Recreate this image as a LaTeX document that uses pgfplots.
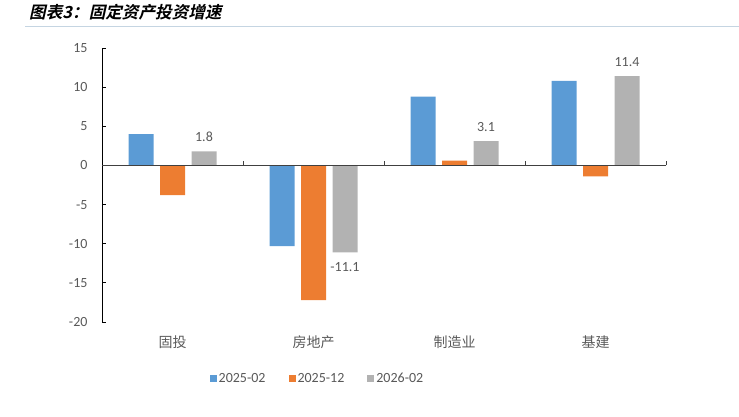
\documentclass[border=0pt]{standalone}
\usepackage{fontspec}
\setmainfont{Carlito}
\newfontfamily\cjk{Noto Sans CJK SC}
\newfontfamily\cjktitle[FakeSlant=0.22]{Noto Sans CJK SC Bold}
\usepackage{pgfplots}
\pgfplotsset{compat=1.18}
\definecolor{cblue}{HTML}{5B9BD5}
\definecolor{corange}{HTML}{ED7D31}
\definecolor{cgray}{HTML}{B2B2B2}
\definecolor{txt}{HTML}{595959}
\definecolor{rule}{HTML}{C5D5E2}
\begin{document}
\begin{tikzpicture}
\useasboundingbox (0pt,0pt) rectangle (739pt,-417pt);
\draw[rule, line width=1pt] (25pt,-27pt) -- (739pt,-27pt);
\node[anchor=west, inner sep=0pt] at (29pt,-12pt) {\cjktitle\fontsize{16.6}{18}\selectfont 图表3：固定资产投资增速};
\begin{axis}[
  at={(102pt,-322pt)}, anchor=south west,
  scale only axis, width=564pt, height=274pt,
  ymin=-20, ymax=15, ytick={-20,-15,...,15},
  xmin=-0.5, xmax=3.5,
  axis y line*=left, axis x line*=bottom,
  x axis line style={draw=none},
  y axis line style={black, line width=1pt},
  xtick={0,1,2,3},
  xticklabels={固投,房地产,制造业,基建},
  xticklabel style={font=\cjk\fontsize{14}{16}\selectfont, yshift=-6.5pt},
  major x tick style={draw=none},
  ytick style={black, line width=0.8pt},
  tick align=inside, major tick length=4pt,
  ticklabel style={color=txt},
  yticklabel style={font=\fontsize{14}{16}\selectfont, xshift=-11pt},
  /pgf/number format/assume math mode=true,
  ybar=6.5pt, bar width=25pt,
  legend columns=3,
  legend style={draw=none, at={(0.382,-0.208)}, anchor=center,
    font=\fontsize{14}{16}\selectfont, text=txt,
    /tikz/every even column/.append style={column sep=21pt}},
  legend image code/.code={\fill[#1] (0pt,-3.5pt) rectangle (7pt,3.5pt);},
  clip=false,
]
\addplot[fill=cblue, draw=none] coordinates {(0,4.0) (1,-10.3) (2,8.8) (3,10.8)};
\addplot[fill=corange, draw=none] coordinates {(0,-3.8) (1,-17.2) (2,0.6) (3,-1.4)};
\addplot[fill=cgray, draw=none,
  nodes near coords,
  nodes near coords style={font=\fontsize{14}{16}\selectfont, text=txt, inner sep=9.5pt,
    /pgf/number format/fixed, /pgf/number format/precision=1, /pgf/number format/fixed zerofill}
  ] coordinates {(0,1.8) (1,-11.1) (2,3.1) (3,11.4)};
\legend{2025-02,2025-12,2026-02}
\draw[black!75, line width=1pt] (axis cs:-0.5,0) -- (axis cs:3.5,0);
\draw[black!75, line width=0.8pt] (axis cs:0.5,0) -- ++(0pt,4pt);
\draw[black!75, line width=0.8pt] (axis cs:1.5,0) -- ++(0pt,4pt);
\draw[black!75, line width=0.8pt] (axis cs:2.5,0) -- ++(0pt,4pt);
\draw[black!75, line width=0.8pt] (axis cs:3.5,0) -- ++(0pt,4pt);
\end{axis}
\end{tikzpicture}
\end{document}
